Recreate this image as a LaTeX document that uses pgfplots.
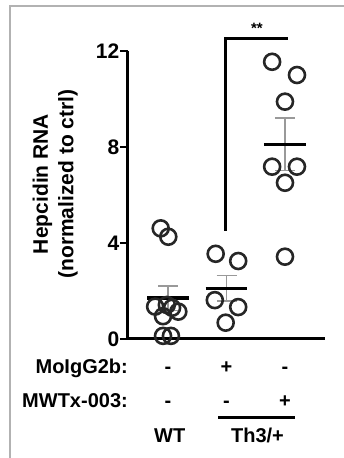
\documentclass[border=0pt]{standalone}
\usepackage{fontspec}
\setmainfont{Liberation Sans}
\usepackage{pgfplots}
\pgfplotsset{compat=1.18}
\newcommand{\lf}{\bfseries\fontsize{20}{24}\selectfont}
\begin{document}
\begin{tikzpicture}[x=1pt,y=1pt]
\useasboundingbox (0,0) rectangle (344,458);
\draw[gray!60, line width=2pt] (10,0) -- (10,452) -- (344,452);
\node[rotate=90, font=\bfseries\fontsize{21}{25}\selectfont, inner sep=0pt] at (42.5,274) {Hepcidin RNA};
\node[rotate=90, font=\bfseries\fontsize{21}{25}\selectfont, inner sep=0pt] at (68,274) {(normalized to ctrl)};
\begin{axis}[
  at={(128pt,119pt)}, anchor=south west,
  scale only axis, width=197pt, height=288pt,
  xmin=0.316, xmax=3.684, ymin=0, ymax=12,
  axis lines=left,
  axis line style={-, line width=3pt, black},
  xtick=\empty,
  ytick={0,4,8,12},
  tick align=outside,
  major tick length=8pt,
  tick style={line width=2.5pt, black},
  yticklabel style={font=\bfseries\fontsize{21}{24}\selectfont, inner sep=0.5pt},
  /pgf/number format/assume math mode=true,
  clip=false,
]
% error bars
\addplot[draw=none, mark=none, forget plot,
  error bars/.cd, y dir=both, y explicit,
  error mark options={rotate=90, mark size=10pt, line width=1.6pt, gray!80},
  error bar style={gray!80, line width=1.6pt}]
  coordinates {(1.0,1.70) +- (0,0.51) (2.0,2.11) +- (0,0.53) (3.0,8.11) +- (0,1.09)};
% means
\addplot[black, line width=3.5pt] coordinates {(0.641,1.70) (1.359,1.70)};
\addplot[black, line width=3.5pt] coordinates {(1.641,2.11) (2.359,2.11)};
\addplot[black, line width=3.5pt] coordinates {(2.641,8.11) (3.359,8.11)};
% points WT
\addplot[only marks, mark=o, mark size=8pt, mark options={line width=2.6pt, draw=black!85}]
  coordinates {(0.875,4.61) (1.005,4.26) (0.78,1.35) (0.98,1.42) (1.07,1.30) (1.176,1.14) (0.915,0.95) (0.915,0.13) (1.05,0.13)};
% points MoIgG2b
\addplot[only marks, mark=o, mark size=8pt, mark options={line width=2.6pt, draw=black!85}]
  coordinates {(1.815,3.55) (2.20,3.25) (1.80,1.62) (2.20,1.33) (1.986,0.68)};
% points MWTx-003
\addplot[only marks, mark=o, mark size=8pt, mark options={line width=2.6pt, draw=black!85}]
  coordinates {(2.78,11.55) (3.205,11.0) (3.0,9.89) (2.78,7.18) (3.205,7.18) (3.0,6.51) (3.0,3.43)};
% significance bracket
\addplot[black, line width=3pt, line join=miter] coordinates {(1.99,4.5) (1.99,12.53) (3.05,12.53)};
\node[font=\bfseries\fontsize{15}{18}\selectfont, anchor=base, inner sep=0pt] at (axis cs:2.52,12.72) {**};
% design rows
\node[font=\lf, anchor=base east, inner sep=0pt] at (axis cs:0.316,-1.458) {MoIgG2b:};
\node[font=\lf, anchor=base east, inner sep=0pt] at (axis cs:0.316,-2.875) {MWTx-003:};
\node[font=\lf, anchor=base, inner sep=0pt] at (axis cs:1,-1.458) {-};
\node[font=\lf, anchor=base, inner sep=0pt] at (axis cs:2,-1.458) {+};
\node[font=\lf, anchor=base, inner sep=0pt] at (axis cs:3,-1.458) {-};
\node[font=\lf, anchor=base, inner sep=0pt] at (axis cs:1,-2.875) {-};
\node[font=\lf, anchor=base, inner sep=0pt] at (axis cs:2,-2.875) {-};
\node[font=\lf, anchor=base, inner sep=0pt] at (axis cs:3,-2.875) {+};
\addplot[black, line width=3pt] coordinates {(1.855,-3.29) (3.17,-3.29)};
\node[font=\lf, anchor=base, inner sep=0pt] at (axis cs:1.03,-4.333) {WT};
\node[font=\lf, anchor=base, inner sep=0pt] at (axis cs:2.53,-4.333) {Th3/+};
\end{axis}
\end{tikzpicture}
\end{document}
